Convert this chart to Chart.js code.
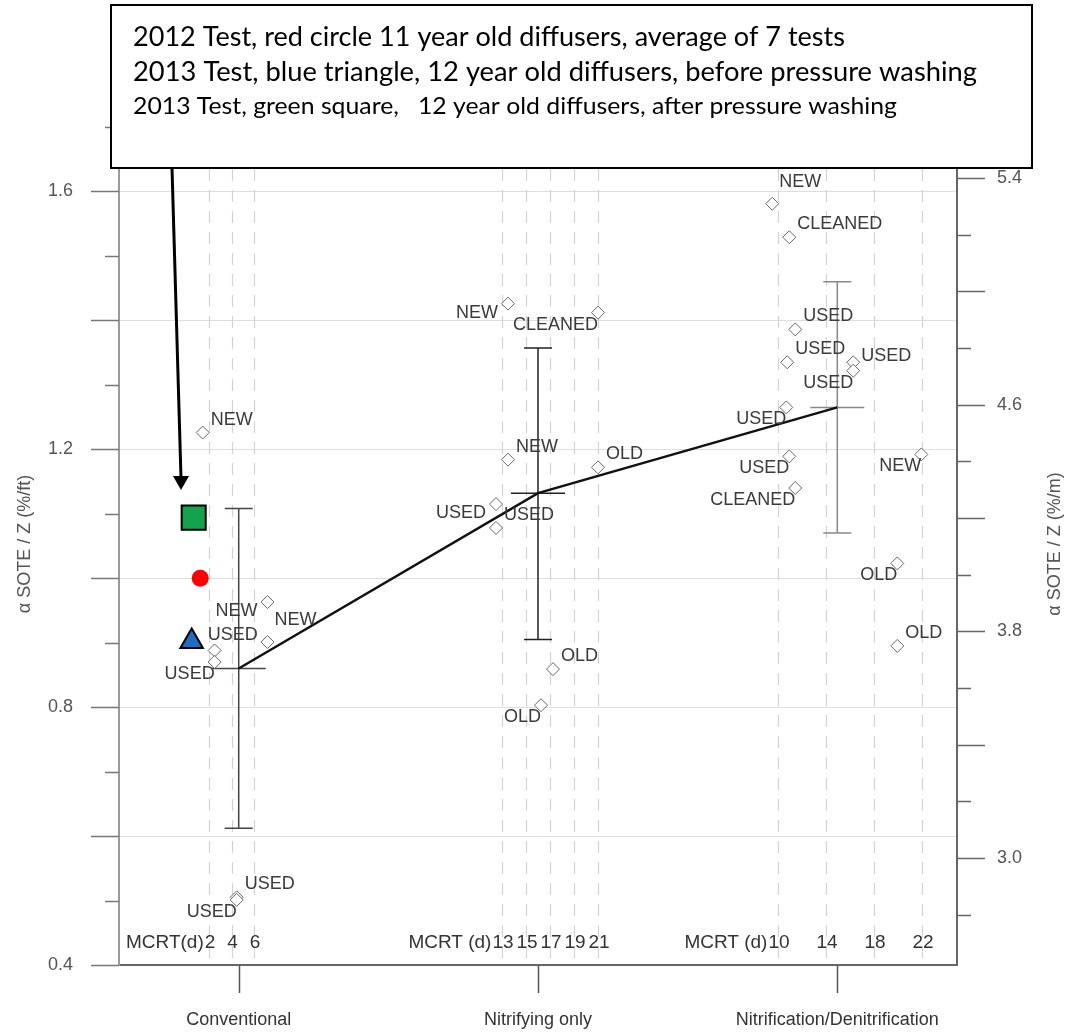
<!DOCTYPE html>
<html>
<head>
<meta charset="utf-8">
<script src="https://cdn.jsdelivr.net/npm/chart.js@4.4.1/dist/chart.umd.min.js"></script>
<style>
  html, body { margin: 0; padding: 0; background: #fff; }
</style>
</head>
<body>
<canvas id="soteChart" width="1066" height="1032"></canvas>
<script>
// x axis groups and the MCRT days marked in each
const groups = ['Conventional', 'Nitrifying only', 'Nitrification/Denitrification'];
const mcrtTicks = [[2, 4, 6], [13, 15, 17, 19, 21], [10, 14, 18, 22]];
const mcrtCaption = ['MCRT(d)', 'MCRT (d)', 'MCRT (d)'];

// group mean with its range bar (alpha SOTE / Z, %/ft)
const groupMean = [0.86, 1.132, 1.265];
const groupLow = [0.612, 0.905, 1.07];
const groupHigh = [1.108, 1.357, 1.46];

// diffuser points per group: MCRT (d), alpha SOTE / Z (%/ft), condition
const convMcrt = [1.44, 7.2, 7.2, 2.5, 2.5, 4.46, 4.46];
const convSote = [1.226, 0.963, 0.901, 0.888, 0.870, 0.505, 0.501];
const convTag = ['NEW', 'NEW', 'NEW', 'USED', 'USED', 'USED', 'USED'];
const convSide = ['ur', 'l', 'uu', 'a', 'll', 'ur', 'll'];

const nitrMcrt = [13.5, 21, 13.5, 21, 12.5, 12.5, 17.25, 16.25];
const nitrSote = [1.426, 1.412, 1.184, 1.172, 1.115, 1.078, 0.859, 0.803];
const nitrTag = ['NEW', 'CLEANED', 'NEW', 'OLD', 'USED', 'USED', 'OLD', 'OLD'];
const nitrSide = ['l', 'll', 'ur', 'ur', 'l', 'ur', 'ur', 'll'];

const ndMcrt = [9.52, 10.94, 11.44, 10.77, 16.27, 16.27, 10.69, 10.94, 11.44, 21.94, 19.94, 19.94];
const ndSote = [1.581, 1.529, 1.386, 1.335, 1.335, 1.322, 1.265, 1.189, 1.14, 1.192, 1.023, 0.895];
const ndTag = ['NEW', 'CLEANED', 'USED', 'USED', 'USED', 'USED', 'USED', 'USED', 'CLEANED', 'NEW', 'OLD', 'OLD'];
const ndSide = ['uu', 'ur', 'ur', 'ur', 'r', 'll', 'll', 'll', 'll', 'll', 'll', 'ur'];

// plant tests 2012 / 2013 (placed on the conventional group)
const test2012 = { mcrt: 1.22, sote: 1.0 };   // red circle
const test2013a = { mcrt: 0.46, sote: 0.902 }; // blue triangle, before washing
const test2013b = { mcrt: 0.64, sote: 1.094 }; // green square, after washing

const noteLines = [
  '2012 Test, red circle 11 year old diffusers, average of 7 tests',
  '2013 Test, blue triangle, 12 year old diffusers, before pressure washing',
  '2013 Test, green square,   12 year old diffusers, after pressure washing'
];

const leftTicks = [0.4, 0.5, 0.6, 0.7, 0.8, 0.9, 1.0, 1.1, 1.2, 1.3, 1.4, 1.5, 1.6, 1.7];
const rightTicks = [2.8, 3.0, 3.2, 3.4, 3.6, 3.8, 4.0, 4.2, 4.4, 4.6, 4.8, 5.0, 5.2, 5.4];

// group g sits at x = g + 1, its MCRT days spread around that
const groupMid = [4.64, 16, 14.94];
const dayStep = [0.0376, 0.0401, 0.0401];
function xPos(g, d) { return g + 1 + (d - groupMid[g]) * dayStep[g]; }

const FONT = "'Liberation Sans', Arial, sans-serif";
const near = (a, b) => Math.abs(a - b) < 1e-6;
const isStep = (v, s) => near(v / s, Math.round(v / s));

function pts(g, days, vals) {
  return days.map((d, i) => ({ x: xPos(g, d), y: vals[i] }));
}

const tags = [null, convTag, nitrTag, ndTag];
const sides = [null, convSide, nitrSide, ndSide];

const diamond = {
  pointStyle: 'rectRot', pointRadius: 6.5, pointHoverRadius: 6.5,
  backgroundColor: '#fff', borderColor: '#666', borderWidth: 1
};

const sideOffset = {
  ur: [8, -13, 'left'], uu: [7, -22, 'left'], r: [8, -6, 'left'],
  l: [-10, 9, 'right'], ll: [0, 12, 'right'], a: [18, -15, 'center']
};

const decor = {
  id: 'decor',
  beforeDatasetsDraw(chart) {
    const { ctx, chartArea: a, scales: { x, y } } = chart;
    ctx.save();
    // dashed MCRT guides
    ctx.strokeStyle = '#d2d2d2';
    ctx.lineWidth = 1.2;
    ctx.setLineDash([12, 9]);
    mcrtTicks.forEach((days, g) => days.forEach(d => {
      const px = Math.round(x.getPixelForValue(xPos(g, d))) + 0.5;
      ctx.beginPath(); ctx.moveTo(px, a.top); ctx.lineTo(px, a.bottom); ctx.stroke();
    }));
    ctx.setLineDash([]);
    // range bars
    const barColor = ['#444', '#222', '#888'];
    groups.forEach((name, g) => {
      const cx = x.getPixelForValue(g + 1);
      const top = y.getPixelForValue(groupHigh[g]);
      const bot = y.getPixelForValue(groupLow[g]);
      const mid = y.getPixelForValue(groupMean[g]);
      ctx.strokeStyle = barColor[g];
      ctx.lineWidth = 1.5;
      ctx.beginPath();
      ctx.moveTo(cx, top); ctx.lineTo(cx, bot);
      ctx.moveTo(cx - 14, top); ctx.lineTo(cx + 14, top);
      ctx.moveTo(cx - 14, bot); ctx.lineTo(cx + 14, bot);
      ctx.moveTo(cx - 27, mid); ctx.lineTo(cx + 27, mid);
      ctx.stroke();
    });
    ctx.restore();
  },
  afterDatasetsDraw(chart) {
    const { ctx } = chart;
    ctx.save();
    ctx.font = '18px ' + FONT;
    ctx.fillStyle = '#3a3a3a';
    ctx.textBaseline = 'middle';
    [1, 2, 3].forEach(di => {
      const meta = chart.getDatasetMeta(di);
      meta.data.forEach((el, i) => {
        const [dx, dy, align] = sideOffset[sides[di][i]];
        ctx.textAlign = align;
        ctx.fillText(tags[di][i], el.x + dx, el.y + dy);
      });
    });
    ctx.restore();
  },
  afterDraw(chart) {
    const { ctx, chartArea: a, scales: { x, y, y2 } } = chart;
    ctx.save();
    // tick marks
    ctx.strokeStyle = '#777';
    ctx.lineWidth = 1.5;
    leftTicks.forEach(v => {
      const py = Math.round(y.getPixelForValue(v)) + 0.5;
      const len = isStep(v, 0.2) ? 28 : 14;
      ctx.beginPath(); ctx.moveTo(a.left - len, py); ctx.lineTo(a.left, py); ctx.stroke();
    });
    ctx.strokeStyle = '#666';
    rightTicks.forEach(v => {
      const py = Math.round(y2.getPixelForValue(v)) + 0.5;
      const len = isStep(v - 3.0, 0.4) ? 28 : 14;
      ctx.beginPath(); ctx.moveTo(a.right, py); ctx.lineTo(a.right + len, py); ctx.stroke();
    });
    ctx.strokeStyle = '#555';
    groups.forEach((n, g) => {
      const px = Math.round(x.getPixelForValue(g + 1)) + 0.5;
      ctx.beginPath(); ctx.moveTo(px, a.bottom); ctx.lineTo(px, a.bottom + 28); ctx.stroke();
    });

    // MCRT rows along the bottom of the plot
    ctx.font = '19px ' + FONT;
    ctx.fillStyle = '#333';
    ctx.textBaseline = 'middle';
    const rowY = a.bottom - 22;
    mcrtTicks.forEach((days, g) => {
      days.forEach(d => {
        ctx.textAlign = 'center';
        ctx.fillText(String(d), x.getPixelForValue(xPos(g, d)) + 1, rowY);
      });
      const first = String(days[0]);
      const fx = x.getPixelForValue(xPos(g, days[0])) + 1 - ctx.measureText(first).width / 2 - 1;
      ctx.textAlign = 'right';
      ctx.fillText(mcrtCaption[g], fx, rowY);
    });

    // axis titles
    ctx.font = '18px ' + FONT;
    ctx.fillStyle = '#555';
    ctx.textAlign = 'center';
    const midY = (a.top + a.bottom) / 2 - 2;
    ctx.save();
    ctx.translate(25, midY); ctx.rotate(-Math.PI / 2);
    ctx.fillText('\u03B1 SOTE / Z (%/ft)', 0, 0);
    ctx.restore();
    ctx.save();
    ctx.translate(1055, midY); ctx.rotate(-Math.PI / 2);
    ctx.fillText('\u03B1 SOTE / Z (%/m)', 0, 0);
    ctx.restore();

    // note box with its arrow
    ctx.fillStyle = '#fff';
    ctx.fillRect(111, 5, 921, 163);
    ctx.strokeStyle = '#000';
    ctx.lineWidth = 2;
    ctx.strokeRect(111, 5, 921, 163);
    ctx.fillStyle = '#000';
    ctx.textAlign = 'left';
    ctx.textBaseline = 'middle';
    const lineY = [37, 72, 107];
    const lineW = [712, 844, 764];
    const lineSize = [27, 27, 23];
    noteLines.forEach((t, i) => {
      ctx.font = lineSize[i] + "px Lato, 'Open Sans', sans-serif";
      const w = ctx.measureText(t).width;
      ctx.save();
      ctx.translate(133, lineY[i]);
      ctx.scale(lineW[i] / w, 1);
      ctx.fillText(t, 0, 0);
      ctx.restore();
    });
    const tipX = 181, tipY = 490;
    ctx.lineWidth = 3;
    ctx.beginPath(); ctx.moveTo(172, 168); ctx.lineTo(tipX, tipY - 12); ctx.stroke();
    ctx.beginPath();
    ctx.moveTo(tipX, tipY); ctx.lineTo(tipX - 8, tipY - 14); ctx.lineTo(tipX + 8, tipY - 14);
    ctx.closePath(); ctx.fill();
    ctx.restore();
  }
};

const ctx = document.getElementById('soteChart').getContext('2d');
const soteChart = new Chart(ctx, {
  type: 'scatter',
  data: {
    datasets: [
      {
        label: 'Group mean',
        data: groupMean.map((v, g) => ({ x: g + 1, y: v })),
        showLine: true, borderColor: '#111', borderWidth: 2.5,
        pointRadius: 0, order: 10
      },
      Object.assign({ label: 'Conventional', data: pts(0, convMcrt, convSote) }, diamond),
      Object.assign({ label: 'Nitrifying only', data: pts(1, nitrMcrt, nitrSote) }, diamond),
      Object.assign({ label: 'Nitrification/Denitrification', data: pts(2, ndMcrt, ndSote) }, diamond),
      {
        label: '2013 after washing', data: [{ x: xPos(0, test2013b.mcrt), y: test2013b.sote }],
        pointStyle: 'rect', pointRadius: 17, pointHoverRadius: 17,
        backgroundColor: '#14a24c', borderColor: '#000', borderWidth: 2
      },
      {
        label: '2012 test', data: [{ x: xPos(0, test2012.mcrt), y: test2012.sote }],
        pointStyle: 'circle', pointRadius: 8.5, pointHoverRadius: 8.5,
        backgroundColor: '#ff0000', borderColor: '#ff0000', borderWidth: 0
      },
      {
        label: '2013 before washing', data: [{ x: xPos(0, test2013a.mcrt), y: test2013a.sote }],
        pointStyle: 'triangle', pointRadius: 13, pointHoverRadius: 13,
        backgroundColor: '#1f6ec4', borderColor: '#000', borderWidth: 2
      }
    ]
  },
  options: {
    responsive: false,
    animation: false,
    layout: { padding: { top: 127, left: 0, right: 0, bottom: 0 } },
    plugins: { legend: { display: false }, tooltip: { enabled: false } },
    scales: {
      x: {
        type: 'linear', min: 0.6, max: 3.4,
        afterBuildTicks: s => { s.ticks = [1, 2, 3].map(v => ({ value: v })); },
        afterFit: s => { s.height = 67; },
        ticks: {
          autoSkip: false, maxRotation: 0, padding: 44,
          color: '#333', font: { family: FONT, size: 18 },
          callback: v => groups[v - 1]
        },
        grid: { display: false, drawTicks: false },
        border: { color: '#666', width: 2 }
      },
      y: {
        position: 'left', min: 0.4, max: 1.7,
        afterBuildTicks: s => { s.ticks = leftTicks.map(v => ({ value: v })); },
        afterFit: s => { s.width = 119; },
        ticks: {
          autoSkip: false, padding: 46,
          color: '#555', font: { family: FONT, size: 18 },
          callback: v => isStep(v, 0.4) ? v.toFixed(1) : ''
        },
        grid: {
          drawTicks: false, lineWidth: 1,
          color: c => (c.tick && c.tick.value > 0.45 && isStep(c.tick.value, 0.2)) ? '#dedede' : 'rgba(0,0,0,0)'
        },
        border: { color: '#999', width: 2 }
      },
      y2: {
        position: 'right', min: 2.623, max: 5.58,
        afterBuildTicks: s => { s.ticks = rightTicks.map(v => ({ value: v })); },
        afterFit: s => { s.width = 109; },
        ticks: {
          autoSkip: false, padding: 40,
          color: '#555', font: { family: FONT, size: 18 },
          callback: v => isStep(v - 3.0, 0.8) ? v.toFixed(1) : ''
        },
        grid: { display: false, drawTicks: false },
        border: { color: '#666', width: 2 }
      }
    }
  },
  plugins: [decor]
});
</script>
</body>
</html>
